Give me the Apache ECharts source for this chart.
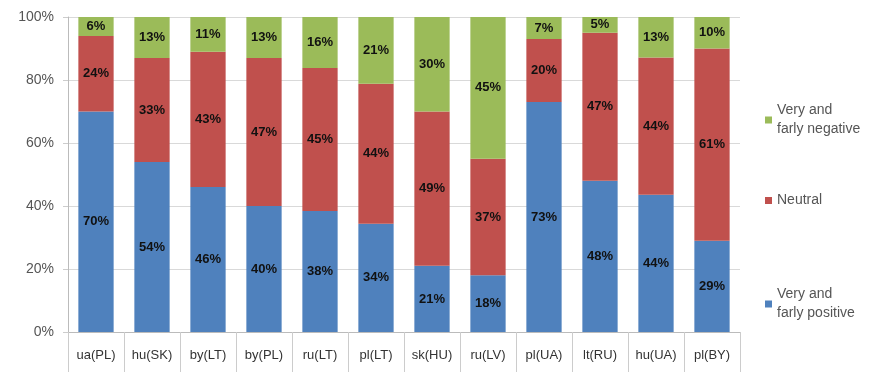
<!DOCTYPE html>
<html><head><meta charset="utf-8">
<script src="https://cdn.jsdelivr.net/npm/echarts@6/dist/echarts.min.js"></script>
<style>html,body{margin:0;padding:0;background:#fff}#c{width:871px;height:379px}</style>
</head><body><div id="c"></div>
<script>
const categories = ['ua(PL)','hu(SK)','by(LT)','by(PL)','ru(LT)','pl(LT)','sk(HU)','ru(LV)','pl(UA)','lt(RU)','hu(UA)','pl(BY)'];
const positive = [70,54,46,40,38,34,21,18,73,48,44,29];
const neutral  = [24,33,43,47,45,44,49,37,20,47,44,61];
const negative = [6,13,11,13,16,21,30,45,7,5,13,10];
const yTicks = ['0%','20%','40%','60%','80%','100%'];
const names = ['Very and\nfarly positive','Neutral','Very and\nfarly negative'];
const colors = ['#4F81BD','#C0504D','#9BBB59'];

const totals = categories.map((c,i)=>positive[i]+neutral[i]+negative[i]);
function norm(arr){ return arr.map((v,i)=>({value: v*100/totals[i], raw: v})); }

const chart = echarts.init(document.getElementById('c'));
const lbl = {show:true, position:'inside', color:'#111', fontSize:13, fontWeight:'bold', fontFamily:'Liberation Sans Narrow, Arial', formatter: p => p.data.raw + '%'};
function legendAt(name, top){
  return {orient:'vertical', left:760, top:top, icon:'rect', itemWidth:7, itemHeight:7, itemGap:4, selectedMode:false,
    data:[name], textStyle:{color:'#555', fontSize:14, fontFamily:'Liberation Sans Narrow, Arial', lineHeight:19}};
}
chart.setOption({
  animation:false,
  grid:{left:68, right:131, top:17, bottom:47},
  legend:[legendAt(names[2],96), legendAt(names[1],186), legendAt(names[0],280)],
  xAxis:{type:'category', data:categories,
    axisLine:{lineStyle:{color:'#bbb'}},
    axisTick:{show:true, length:40, lineStyle:{color:'#ccc'}},
    axisLabel:{color:'#333', fontSize:13, margin:17, fontFamily:'Liberation Sans Narrow, Arial'}},
  yAxis:{type:'value', min:0, max:100, interval:20,
    axisLine:{show:true, lineStyle:{color:'#bbb'}},
    axisTick:{show:true, length:5, lineStyle:{color:'#ccc'}},
    splitLine:{lineStyle:{color:'#d9d9d9'}},
    axisLabel:{color:'#555', fontSize:14, margin:14, fontFamily:'Liberation Sans Narrow, Arial', formatter:(v)=>yTicks[v/20]}},
  series:[
    {name:names[0], type:'bar', stack:'a', data:norm(positive), itemStyle:{color:colors[0]}, label:lbl, barCategoryGap:'37%'},
    {name:names[1], type:'bar', stack:'a', data:norm(neutral), itemStyle:{color:colors[1]}, label:lbl},
    {name:names[2], type:'bar', stack:'a', data:norm(negative), itemStyle:{color:colors[2]}, label:lbl}
  ]
});
</script></body></html>
